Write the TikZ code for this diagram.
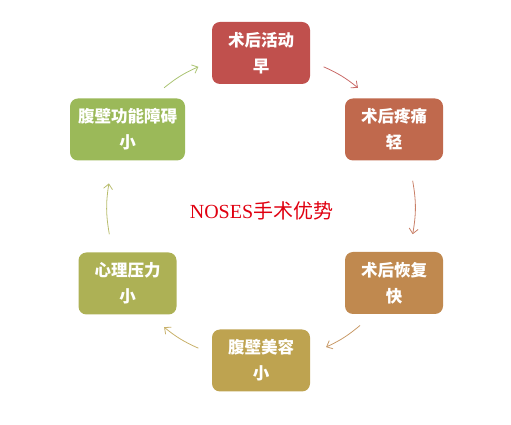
\documentclass[tikz,border=0pt]{standalone}
\usepackage{fontspec}
\setmainfont{Liberation Serif}
\newfontfamily\cjk{Noto Sans CJK SC}
\usetikzlibrary{arrows.meta,calc}
\definecolor{cA}{HTML}{C0504D}
\definecolor{cB}{HTML}{C0694D}
\definecolor{cC}{HTML}{C0894F}
\definecolor{cD}{HTML}{BEA350}
\definecolor{cE}{HTML}{ADB155}
\definecolor{cF}{HTML}{9BB959}
\definecolor{titlered}{HTML}{E00010}
\tikzset{
  x=1pt, y=1pt,
  box/.style={rounded corners=8pt, minimum width=98pt, minimum height=62pt,
    inner xsep=8pt, inner ysep=4pt, align=center, text=white,
    font=\cjk\bfseries\fontsize{16.5}{26}\selectfont},
  arr/.style={line width=0.8pt, -{Straight Barb[length=5pt,width=9pt]}}
}
\begin{document}
\begin{tikzpicture}
\useasboundingbox (0,0) rectangle (511,425);
\coordinate (ctr) at (261,217.5);
\node[box, fill=cA] (b1) at (261,372) {术后活动\\早};
\node[box, fill=cB] (b2) at (394,295.5) {术后疼痛\\轻};
\node[box, fill=cC] (b3) at (394,142) {术后恢复\\快};
\node[box, fill=cD] (b4) at (261,64.5) {腹壁美容\\小};
\node[box, fill=cE] (b5) at (127.5,141.5) {心理压力\\小};
\node[box, fill=cF] (b6) at (127.5,295.5) {腹壁功能障碍\\小};
\node[text=titlered, font=\fontsize{20}{22}\selectfont] (title) at (261.5,214.5) {NOSES{\cjk 手术优势}};
% arc end points on a circle round the centre
\coordinate (s1) at ($(ctr)+(66:154)$);  \coordinate (e1) at ($(ctr)+(51:154)$);
\coordinate (s2) at ($(ctr)+(10:154)$);  \coordinate (e2) at ($(ctr)+(-10:154)$);
\coordinate (s3) at ($(ctr)+(-50:154)$); \coordinate (e3) at ($(ctr)+(-65:154)$);
\coordinate (s4) at ($(ctr)+(246:154)$); \coordinate (e4) at ($(ctr)+(231:154)$);
\coordinate (s5) at ($(ctr)+(190:154)$); \coordinate (e5) at ($(ctr)+(171:154)$);
\coordinate (s6) at ($(ctr)+(129:154)$); \coordinate (e6) at ($(ctr)+(114:154)$);
\draw[arr, draw=cA!85] (s1) to[bend left=7.5] (e1);
\draw[arr, draw=cB!85] (s2) to[bend left=10] (e2);
\draw[arr, draw=cC!85] (s3) to[bend left=7.5] (e3);
\draw[arr, draw=cD!85] (s4) to[bend left=7.5] (e4);
\draw[arr, draw=cE!85] (s5) to[bend left=9.5] (e5);
\draw[arr, draw=cF!85] (s6) to[bend left=7.5] (e6);
\end{tikzpicture}
\end{document}
